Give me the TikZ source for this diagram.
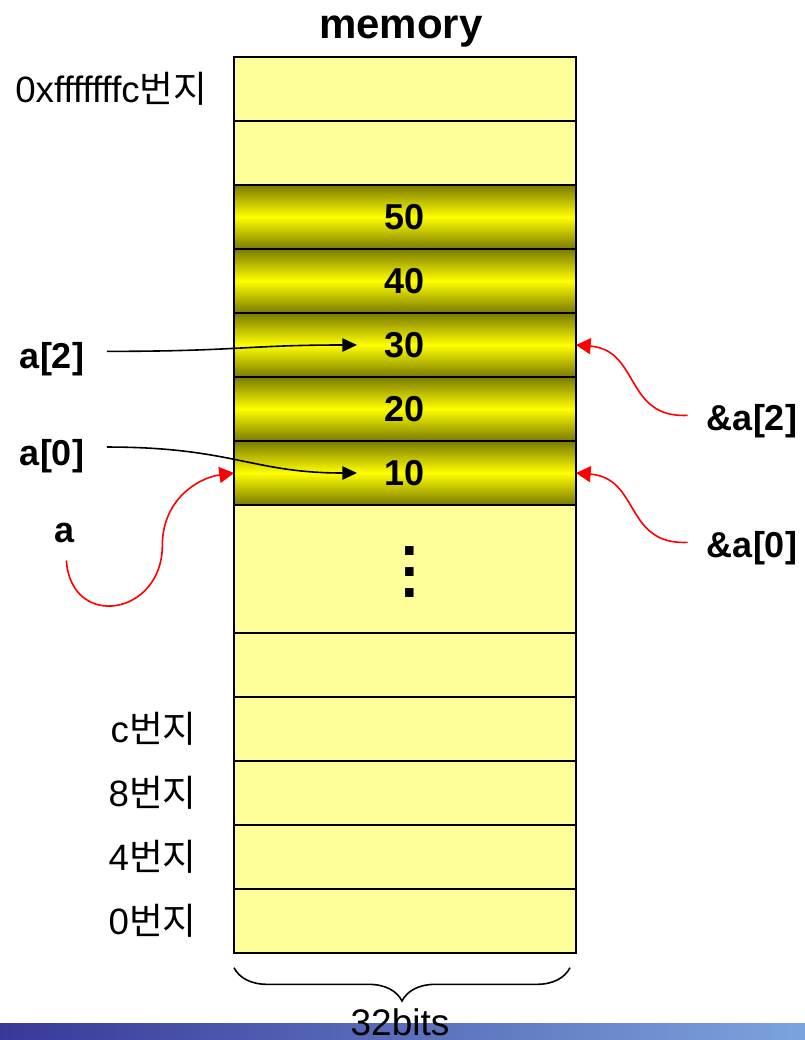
\documentclass[tikz,border=0pt]{standalone}
\usepackage{fontspec}
\setmainfont{Liberation Sans}
\newfontfamily\kofont{Noto Sans CJK KR}
\newcommand{\kor}[1]{{\kofont #1}}
\usetikzlibrary{arrows.meta, positioning, decorations.pathreplacing}
\definecolor{cellyellow}{HTML}{FFFF99}
\definecolor{cellolive}{HTML}{7A7A00}
\definecolor{cellbright}{HTML}{FFFF00}
\definecolor{barleft}{HTML}{383899}
\definecolor{barright}{HTML}{7BA4DD}
\definecolor{ptrred}{HTML}{FF0000}
\tikzset{
  every picture/.style={line width=1.2pt},
  cell/.style={draw, line width=1.5pt, fill=cellyellow, minimum width=256.5pt, minimum height=48pt, inner sep=0pt, outer sep=0pt},
  datacell/.style={cell, top color=cellolive, bottom color=cellolive, middle color=cellbright, font=\fontsize{27}{32}\selectfont\bfseries},
  addr/.style={inner sep=0pt, font=\fontsize{27.5}{32}\selectfont},
  varlab/.style={anchor=base, inner sep=3pt, font=\fontsize{27}{32}\selectfont\bfseries},
  ptr/.style={-{Triangle[length=11pt, width=10pt]}, line width=1.2pt},
  refptr/.style={ptr, draw=ptrred, -{Triangle[length=11pt, width=12pt]}},
}

\begin{document}
\begin{tikzpicture}[x=0.75pt, y=-0.75pt]
  \useasboundingbox (0,0) rectangle (805,1040);
  % bottom bar
  \shade[left color=barleft, right color=barright] (0,1023) rectangle (805,1040);
  % title
  \node[varlab, font=\fontsize{31.5}{36}\selectfont\bfseries] (title) at (401,38) {memory};
  % memory column, top to bottom
  \node[cell] (rtop) at (405,89) {};
  \node[cell] (rnext) at (405,153) {};
  \foreach \v [count=\i] in {50,40,30,20,10} {
    \node[datacell] (v\v) at (405,153+64*\i) {\v};
  }
  \node[cell, minimum height=96pt] (rdots) at (405,569) {};
  \node[font=\fontsize{45}{15.75}\selectfont\bfseries, align=center, inner sep=0pt] (dots) at (410,572) {.\\.\\.};
  \node[cell] (rfree) at (405,665) {};
  \foreach \a/\y in {c/729, 8/793, 4/857, 0/921} {
    \node[cell] (r\a) at (405,\y) {};
    \node[addr, left=27.5pt of r\a] (l\a) {\a\kor{번지}};
  }
  \node[addr, left=19.5pt of rtop] (ltop) {0xfffffffc\kor{번지}};
  % names and pointers
  \node[varlab] (a2) at (52,368) {a[2]};
  \node[varlab] (a0) at (52,465) {a[0]};
  \node[varlab] (a) at (65,542) {a};
  \node[varlab] (ra2) at (752,430) {\&a[2]};
  \node[varlab] (ra0) at (752,557) {\&a[0]};
  \draw[ptr] ([xshift=13.5pt, yshift=5.5pt]a2.east) .. controls +(130,0) and +(-110,0) .. ([xshift=-36pt]v30.center);
  \draw[ptr] ([xshift=13.5pt, yshift=6.5pt]a0.east) .. controls +(125,0) and +(-105,0) .. ([xshift=-36pt]v10.center);
  \draw[refptr] ([xshift=1pt, yshift=-10pt]a.south) .. controls +(5,70) and +(0,70) .. ++(96,-15)
    .. controls +(0,-45) and +(-37,5) .. (v10.west);
  \draw[refptr] ([xshift=-11pt, yshift=4pt]ra2.west) .. controls +(-63,3) and +(64,5) .. (v30.east);
  \draw[refptr] ([xshift=-11pt, yshift=4pt]ra0.west) .. controls +(-63,3) and +(64,5) .. (v10.east);
  % width of a cell
  \draw[decorate, decoration={brace, mirror, amplitude=25pt}] ([yshift=-11pt]r0.south west) -- ([xshift=-4.5pt, yshift=-11pt]r0.south east);
  \node[anchor=base, inner sep=0pt, font=\fontsize{27.75}{32}\selectfont] (bits) at (400,1035) {32bits};
\end{tikzpicture}
\end{document}
